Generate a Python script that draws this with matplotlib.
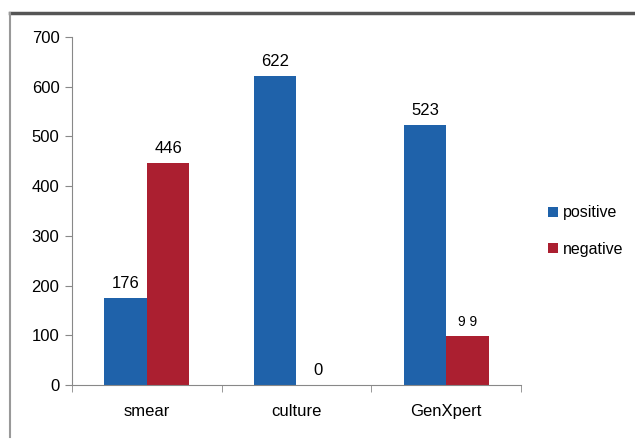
import matplotlib
matplotlib.use("Agg")
import matplotlib.pyplot as plt
from matplotlib.lines import Line2D
import numpy as np

categories = ["smear", "culture", "GenXpert"]
positive = [176, 622, 523]
negative = [446, 0, 99]
neg_labels = ["446", "0", "9 9"]

plt.rcParams['font.family'] = ['Liberation Sans', 'DejaVu Sans']

blue = '#1F62AA'
red = '#AB1F30'

fig = plt.figure(figsize=(6.35, 4.45), dpi=100)
ax = fig.add_axes([72 / 635, 1 - 385 / 445, (521 - 72) / 635, (385 - 37) / 445])

x = np.arange(len(categories))
w = 0.285
b1 = ax.bar(x - w / 2, positive, w, color=blue, label='positive')
b2 = ax.bar(x + w / 2, negative, w, color=red, label='negative')

for rect, v in zip(b1, positive):
    ax.text(rect.get_x() + rect.get_width() / 2, v + 14, str(v),
            ha='center', va='bottom', fontsize=12)
for rect, v, s in zip(b2, negative, neg_labels):
    ax.text(rect.get_x() + rect.get_width() / 2, v + 14, s,
            ha='center', va='bottom', fontsize=12 if s != "9 9" else 10)

ax.set_xlim(-0.5, 2.5)
ax.set_ylim(0, 700)
ax.set_yticks(range(0, 701, 100))
ax.tick_params(axis='y', labelsize=12, length=5, color='#888888', pad=4)
ax.set_xticks(x)
ax.set_xticklabels(categories, fontsize=12)
ax.tick_params(axis='x', length=0, pad=14)
ax.set_xticks([-0.5, 0.5, 1.5, 2.5], minor=True)
ax.tick_params(axis='x', which='minor', length=5, color='#888888')

for s in ['top', 'right']:
    ax.spines[s].set_visible(False)
ax.spines['left'].set_color('#888888')
ax.spines['bottom'].set_color('#888888')

ax.legend(loc='center left', bbox_to_anchor=(548 / 635, 1 - 231 / 445),
          bbox_transform=fig.transFigure, frameon=False, fontsize=11.5,
          handlelength=0.6, handleheight=0.6, handletextpad=0.35,
          labelspacing=1.35, borderpad=0, borderaxespad=0)

# outer frame lines
fig.add_artist(Line2D([10 / 635, 1], [1 - 13 / 445, 1 - 13 / 445],
                      transform=fig.transFigure, color='#555555', lw=2.5))
fig.add_artist(Line2D([10 / 635, 10 / 635], [1 - 13 / 445, 1 - 437 / 445],
                      transform=fig.transFigure, color='#999999', lw=1.5))

fig.savefig('out.png', dpi=100)
